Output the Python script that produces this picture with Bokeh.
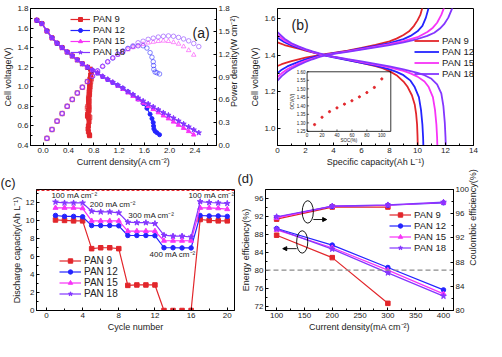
import math
from bokeh.plotting import figure
from bokeh.models import (Range1d, LinearAxis, FixedTicker, PrintfTickFormatter, Title,
                          Legend, LegendItem, Label, Span, Arrow, NormalHead)
from bokeh.layouts import row, column
from bokeh.embed import file_html
from bokeh.resources import INLINE
from bokeh.core.properties import value

FONT = "Liberation Sans"
RED, BLUE, MAG, PUR = "#e2262b", "#2424ff", "#f733f7", "#8436ff"
NAMES = ["PAN 9", "PAN 12", "PAN 15", "PAN 18"]

CURRENT = [-0.10, -0.02, 0.06, 0.14, 0.22, 0.30, 0.38, 0.46, 0.54, 0.62, 0.70, 0.78,
           0.86, 0.94, 1.02, 1.10, 1.18, 1.26, 1.34, 1.42, 1.50, 1.58, 1.66, 1.74,
           1.82, 1.90, 1.98, 2.06, 2.14, 2.22, 2.30, 2.38, 2.46]
cur9 = CURRENT[:11] + [0.75, 0.76, 0.75, 0.74, 0.74, 0.735, 0.73, 0.73, 0.72, 0.72, 0.725,
                       0.72, 0.705, 0.70, 0.72, 0.725, 0.715, 0.71, 0.715, 0.73, 0.735]
volt9 = [1.68, 1.645, 1.57, 1.50, 1.445, 1.40, 1.355, 1.315, 1.275, 1.235, 1.20,
         1.18, 1.15, 1.12, 1.08, 1.04, 1.00, 0.96, 0.92, 0.88, 0.84, 0.80, 0.76, 0.72,
         0.70, 0.68, 0.64, 0.60, 0.57, 0.54, 0.51, 0.50]
pow9 = [-0.17, -0.03, 0.094, 0.21, 0.32, 0.42, 0.515, 0.605, 0.69, 0.765, 0.84,
        0.885, 0.875, 0.84, 0.80, 0.77, 0.735, 0.70, 0.67, 0.635, 0.605, 0.58, 0.545,
        0.51, 0.49, 0.49, 0.465, 0.43, 0.405, 0.385, 0.37, 0.37]
cur12 = CURRENT[:22] + [1.64, 1.69, 1.72, 1.74, 1.745, 1.75, 1.77, 1.80, 1.84]
volt12 = [1.68, 1.645, 1.57, 1.50, 1.445, 1.40, 1.355, 1.315, 1.275, 1.235, 1.20, 1.17,
          1.14, 1.105, 1.075, 1.045, 1.015, 0.985, 0.95, 0.915, 0.875, 0.83, 0.78, 0.72,
          0.675, 0.635, 0.60, 0.57, 0.545, 0.53, 0.51]
pow12 = [-0.17, -0.03, 0.094, 0.21, 0.32, 0.42, 0.515, 0.605, 0.69, 0.765, 0.84, 0.91,
         0.98, 1.04, 1.10, 1.15, 1.20, 1.24, 1.275, 1.30, 1.31, 1.31, 1.28, 1.22, 1.16,
         1.10, 1.05, 1.00, 0.965, 0.955, 0.94]
cur15 = CURRENT[:32]
volt15 = [1.68, 1.645, 1.57, 1.50, 1.445, 1.40, 1.355, 1.315, 1.275, 1.235, 1.20, 1.17,
          1.14, 1.105, 1.075, 1.045, 1.01, 0.976, 0.94, 0.905, 0.869, 0.836, 0.802, 0.77,
          0.737, 0.705, 0.675, 0.642, 0.61, 0.578, 0.545, 0.51]
pow15 = [-0.17, -0.03, 0.094, 0.21, 0.32, 0.42, 0.515, 0.605, 0.69, 0.765, 0.84, 0.91,
         0.98, 1.04, 1.10, 1.15, 1.19, 1.23, 1.26, 1.29, 1.31, 1.33, 1.35, 1.36, 1.37,
         1.375, 1.37, 1.355, 1.335, 1.30, 1.25, 1.19]
cur18 = CURRENT
volt18 = [1.68, 1.645, 1.57, 1.50, 1.445, 1.40, 1.355, 1.315, 1.275, 1.235, 1.20, 1.17,
          1.14, 1.105, 1.075, 1.045, 1.015, 0.985, 0.95, 0.92, 0.885, 0.855, 0.825, 0.795,
          0.765, 0.735, 0.71, 0.68, 0.65, 0.62, 0.59, 0.56, 0.53]
pow18 = [-0.17, -0.03, 0.094, 0.21, 0.32, 0.42, 0.515, 0.605, 0.69, 0.765, 0.84, 0.91,
         0.98, 1.04, 1.10, 1.15, 1.20, 1.24, 1.275, 1.31, 1.35, 1.37, 1.395, 1.41, 1.425,
         1.435, 1.44, 1.435, 1.42, 1.40, 1.375, 1.34, 1.30]

dis9_x = [0, 0.5, 1, 1.5, 2, 2.5, 3, 3.5, 4, 5, 6, 7, 7.5, 8, 8.5, 9, 9.3, 9.6, 9.8, 9.9, 9.97, 10.0, 10.02]
dis9_v = [1.47, 1.455, 1.445, 1.435, 1.425, 1.415, 1.405, 1.397, 1.39, 1.374, 1.358, 1.34, 1.328,
          1.312, 1.29, 1.255, 1.225, 1.18, 1.13, 1.08, 1.02, 0.96, 0.90]
dis12_x = [0, 0.5, 1, 1.5, 2, 2.5, 3, 3.5, 4, 5, 6, 7, 8, 8.5, 9, 9.5, 9.8, 10.1, 10.25, 10.35, 10.4, 10.42]
dis12_v = [1.495, 1.47, 1.453, 1.44, 1.428, 1.416, 1.405, 1.396, 1.388, 1.372, 1.357, 1.342, 1.322,
           1.308, 1.29, 1.26, 1.225, 1.17, 1.10, 1.02, 0.95, 0.90]
dis15_x = [0, 0.5, 1, 1.5, 2, 2.5, 3, 3.5, 4, 5, 6, 7, 8, 9, 9.5, 10, 10.5, 10.8, 11.1, 11.25, 11.35, 11.4, 11.42]
dis15_v = [1.51, 1.48, 1.46, 1.445, 1.43, 1.418, 1.407, 1.398, 1.39, 1.376, 1.362, 1.348, 1.333,
           1.313, 1.30, 1.282, 1.255, 1.225, 1.17, 1.10, 1.02, 0.95, 0.90]
dis18_x = [0, 0.5, 1, 1.5, 2, 2.5, 3, 3.5, 4, 5, 6, 7, 8, 9, 10, 10.5, 11, 11.4, 11.7, 11.85, 11.95, 12.0, 12.02]
dis18_v = [1.525, 1.49, 1.465, 1.448, 1.433, 1.42, 1.409, 1.40, 1.392, 1.378, 1.365, 1.352, 1.338,
           1.322, 1.302, 1.29, 1.27, 1.24, 1.19, 1.12, 1.03, 0.95, 0.90]
chg9_x = [0, 0.3, 0.7, 1, 1.5, 2, 2.5, 3, 3.5, 4, 5, 6, 7, 8, 8.5, 9, 9.4, 9.75, 10.0, 10.2, 10.35]
chg9_v = [1.34, 1.35, 1.36, 1.367, 1.377, 1.386, 1.393, 1.40, 1.406, 1.412, 1.425, 1.44, 1.456,
          1.475, 1.49, 1.51, 1.53, 1.56, 1.59, 1.62, 1.66]
chg12_x = [0, 0.3, 0.7, 1, 1.5, 2, 2.5, 3, 3.5, 4, 5, 6, 7, 8, 9, 9.5, 10, 10.35, 10.6, 10.8]
chg12_v = [1.30, 1.32, 1.338, 1.348, 1.363, 1.376, 1.387, 1.397, 1.404, 1.41, 1.422, 1.436, 1.45,
           1.466, 1.487, 1.505, 1.53, 1.56, 1.605, 1.66]
chg15_x = [0, 0.3, 0.7, 1, 1.5, 2, 2.5, 3, 3.5, 4, 5, 6, 7, 8, 9, 10, 10.7, 11.1, 11.4, 11.7, 11.9]
chg15_v = [1.28, 1.30, 1.322, 1.335, 1.353, 1.368, 1.381, 1.393, 1.402, 1.408, 1.42, 1.433, 1.446,
           1.46, 1.476, 1.498, 1.526, 1.55, 1.577, 1.62, 1.66]
chg18_x = [0, 0.3, 0.7, 1, 1.5, 2, 2.5, 3, 3.5, 4, 5, 6, 7, 8, 9, 10, 10.7, 11.2, 11.6, 11.9, 12.2, 12.5]
chg18_v = [1.26, 1.285, 1.31, 1.325, 1.345, 1.362, 1.377, 1.39, 1.40, 1.407, 1.418, 1.43, 1.442,
           1.455, 1.47, 1.488, 1.505, 1.522, 1.545, 1.569, 1.605, 1.66]
soc = [10, 20, 30, 40, 50, 60, 70, 80, 90, 100]
ocv = [1.29, 1.333, 1.366, 1.388, 1.41, 1.43, 1.453, 1.478, 1.508, 1.558]
inset_x_ticks = [0, 20, 40, 60, 80, 100]
inset_y_ticks = [1.25, 1.30, 1.35, 1.40, 1.45, 1.50, 1.55, 1.60]

cycles = [1, 2, 3, 4, 5, 6, 7, 8, 9, 10, 11, 12, 13, 14, 15, 16, 17, 18, 19, 20]
cap9 = [10.1, 10.05, 10.0, 10.0, 6.9, 7.0, 7.0, 6.9, 2.8, 2.85, 2.85, 2.85, 0, 0, 0, 0, 10.15, 10.05, 10.0, 10.0]
cap12 = [10.6, 10.5, 10.5, 10.45, 9.48, 9.48, 9.48, 9.45, 8.37, 8.37, 8.37, 8.35, 7.0, 7.0, 6.98, 6.98, 10.6, 10.55, 10.55, 10.5]
cap15 = [11.45, 11.45, 11.45, 11.4, 10.0, 10.0, 10.0, 10.0, 8.86, 8.86, 8.86, 8.86, 7.78, 7.78, 7.78, 7.78, 11.45, 11.45, 11.4, 11.3]
cap18 = [12.1, 12.0, 12.0, 12.0, 11.08, 11.0, 11.0, 10.9, 9.85, 9.8, 9.8, 9.7, 8.4, 8.3, 8.3, 8.2, 12.15, 12.05, 12.0, 11.95]
cap_top_line = 13.4
rate_labels = ["100 mA cm\u207b\u00b2", "200 mA cm\u207b\u00b2", "300 mA cm\u207b\u00b2",
               "400 mA cm\u207b\u00b2", "100 mA cm\u207b\u00b2"]

cd = [100, 200, 300, 400]
ee9, ce9 = [87.8, 82.8, 72.6], [95.1, 97.1, 97.1]
ee12, ce12 = [89.3, 85.6, 80.6, 75.6], [95.4, 97.2, 97.4, 97.8]
ee15, ce15 = [89.0, 85.0, 80.0, 74.7], [95.3, 97.25, 97.4, 97.85]
ee18, ce18 = [89.2, 84.7, 79.4, 74.2], [95.5, 97.25, 97.45, 97.9]
ee_ref_line = 80

COLORS = [RED, BLUE, MAG, PUR]
MARKERS = ["square", "circle", "triangle", "star"]
MSIZE = [4.5, 4.5, 5, 6]


def style_axis(ax, ticks, minor, fmt):
    ax.ticker = FixedTicker(ticks=ticks, minor_ticks=minor)
    ax.formatter = PrintfTickFormatter(format=fmt)
    ax.major_label_text_font = FONT
    ax.major_label_text_font_size = "8px"
    ax.major_label_text_color = "#222222"
    ax.axis_label_text_font = FONT
    ax.axis_label_text_font_size = "9px"
    ax.axis_label_text_font_style = "normal"
    ax.axis_label_text_color = "#222222"
    ax.major_tick_in = 3
    ax.major_tick_out = 0
    ax.minor_tick_in = 2
    ax.minor_tick_out = 0
    ax.major_label_standoff = 2
    ax.axis_label_standoff = 1
    ax.axis_line_width = 1


def text_axis(p, range_name, side, ticks, labels, size, orient, standoff):
    """An axis that carries only text (a rotated right-hand title)."""
    ax = LinearAxis(y_range_name=range_name)
    ax.ticker = FixedTicker(ticks=ticks, minor_ticks=[])
    ax.major_label_overrides = dict(zip(ticks, labels))
    ax.major_label_orientation = orient
    ax.major_label_text_font = FONT
    ax.major_label_text_font_size = size
    ax.major_label_text_color = "#222222"
    ax.major_label_standoff = standoff
    ax.axis_line_color = None
    ax.major_tick_line_color = None
    ax.minor_tick_line_color = None
    ax.major_tick_in = 0
    ax.major_tick_out = 0
    ax.minor_tick_in = 0
    ax.minor_tick_out = 0
    p.add_layout(ax, side)
    return ax


def make_fig(w, h, bl, br, bt, bb, xr, yr):
    p = figure(width=w, height=h, x_range=Range1d(*xr), y_range=Range1d(*yr),
               output_backend="svg", toolbar_location=None,
               min_border_left=bl, min_border_right=br, min_border_top=bt, min_border_bottom=bb)
    p.grid.visible = False
    p.outline_line_color = "black"
    p.outline_line_width = 1
    p.background_fill_color = "white"
    p.border_fill_alpha = 0
    return p


def make_legend(p, items, loc, size, gw, lh):
    leg = Legend(items=items, location=loc, label_text_font=FONT, label_text_font_size=size,
                 glyph_width=gw, glyph_height=lh, label_height=lh, spacing=0, padding=0,
                 margin=0, border_line_alpha=0, background_fill_alpha=0, label_standoff=3,
                 label_text_color="#222222")
    p.add_layout(leg)


def panel_label(p, text, x, y, size="14px"):
    p.add_layout(Label(x=x, y=y, x_units="screen", y_units="screen", text=text,
                       text_font=FONT, text_font_size=size, text_baseline="bottom",
                       text_color="#222222"))


def panel_title(p, text, offset, standoff):
    p.add_layout(Title(text=text, align="left", offset=offset, standoff=standoff,
                       text_font=FONT, text_font_size="13px", text_font_style="normal",
                       text_color="#222222"), "above")


# ---------------- panel (a) ----------------
pa = make_fig(247, 180, 29, 27, 8, 35, (-0.2, 2.74), (0.4, 1.8))
pa.extra_y_ranges = {"pow": Range1d(0, 1.8)}
pa_right = LinearAxis(y_range_name="pow")
pa.add_layout(pa_right, "right")
pa.xaxis.axis_label = "Current density(A cm\u207b\u00b2)"
pa.yaxis[0].axis_label = "Cell voltage(V)"
style_axis(pa.xaxis[0], [0, 0.4, 0.8, 1.2, 1.6, 2.0, 2.4], [-0.2, 0.2, 0.6, 1.0, 1.4, 1.8, 2.2, 2.6], "%.1f")
style_axis(pa.yaxis[0], [0.4, 0.6, 0.8, 1.0, 1.2, 1.4, 1.6, 1.8], [0.5, 0.7, 0.9, 1.1, 1.3, 1.5, 1.7], "%.1f")
style_axis(pa_right, [0, 0.3, 0.6, 0.9, 1.2, 1.5, 1.8], [0.15, 0.45, 0.75, 1.05, 1.35, 1.65], "%.1f")
text_axis(pa, "pow", "right", [0.9], ["Power density(W cm\u207b\u00b2)"], "9px", math.pi / 2, 2)

a_items = []
for name, c, m, ms, xs, vs, ps in zip(NAMES, COLORS, MARKERS, MSIZE,
                                      [cur9, cur12, cur15, cur18], [volt9, volt12, volt15, volt18],
                                      [pow9, pow12, pow15, pow18]):
    pm = "circle" if m == "star" else m
    pa.scatter(xs, ps, y_range_name="pow", marker=pm, size=4.5, fill_color=None,
               line_color=c, line_width=0.8, line_alpha=0.7)
    ln = pa.line(xs, vs, line_color=c, line_width=1.2)
    sc = pa.scatter(xs, vs, marker=m, size=ms - 0.5, fill_color=c, line_color=c)
    a_items.append(LegendItem(label=name, renderers=[ln, sc]))
make_legend(pa, a_items, (40, 88), "9.5px", 20, 10)
panel_label(pa, "(a)", 162, 105)

# ---------------- panel (b) ----------------
pb = make_fig(239, 180, 27, 13, 8, 31, (0, 14), (0.905, 1.655))
pb.xaxis.axis_label = "Specific capacity(Ah L\u207b\u00b9)"
pb.yaxis.axis_label = "Cell voltage(V)"
style_axis(pb.xaxis[0], [0, 2, 4, 6, 8, 10, 12, 14], [1, 3, 5, 7, 9, 11, 13], "%d")
style_axis(pb.yaxis[0], [1.0, 1.2, 1.4, 1.6], [1.1, 1.3, 1.5], "%.1f")
b_items = []
for name, c, dx, dv, cx, cv in zip(NAMES, COLORS,
                                   [dis9_x, dis12_x, dis15_x, dis18_x], [dis9_v, dis12_v, dis15_v, dis18_v],
                                   [chg9_x, chg12_x, chg15_x, chg18_x], [chg9_v, chg12_v, chg15_v, chg18_v]):
    l1 = pb.line(dx, dv, line_color=c, line_width=1.8)
    pb.line(cx, cv, line_color=c, line_width=1.8)
    b_items.append(LegendItem(label=name, renderers=[l1]))
make_legend(pb, b_items, (137, 66), "9.5px", 25, 11)
panel_label(pb, "(b)", 14, 113)

IX0, IX1, IY0, IY1 = 0, 112, 1.25, 1.60
FX0, FX1, FY0, FY1 = 0.151, 0.578, 0.103, 0.538
sx = (IX1 - IX0) / (FX1 - FX0)
sy = (IY1 - IY0) / (FY1 - FY0)
pb.extra_x_ranges = {"ix": Range1d(IX0 - FX0 * sx, IX0 - FX0 * sx + sx)}
pb.extra_y_ranges = {"iy": Range1d(IY0 - FY0 * sy, IY0 - FY0 * sy + sy)}
pb.quad(left=[IX0], right=[IX1], bottom=[IY0], top=[IY1], x_range_name="ix", y_range_name="iy",
        fill_color="white", fill_alpha=0.0, line_color="black", line_width=0.8)
pb.ray(x=[IX0] * len(inset_y_ticks), y=inset_y_ticks, length=2, length_units="screen", angle=0,
       x_range_name="ix", y_range_name="iy", line_color="black", line_width=0.6)
pb.ray(x=inset_x_ticks, y=[IY0] * len(inset_x_ticks), length=2, length_units="screen", angle=math.pi / 2,
       x_range_name="ix", y_range_name="iy", line_color="black", line_width=0.6)
pb.text(x=[IX0] * len(inset_y_ticks), y=inset_y_ticks, text=["%.2f" % v for v in inset_y_ticks],
        x_range_name="ix", y_range_name="iy", text_font=value(FONT), text_font_size="4.5px",
        text_align="right", text_baseline="middle", x_offset=-1.5, text_color="#222222")
pb.text(x=inset_x_ticks, y=[IY0] * len(inset_x_ticks), text=["%d" % v for v in inset_x_ticks],
        x_range_name="ix", y_range_name="iy", text_font=value(FONT), text_font_size="4.5px",
        text_align="center", text_baseline="top", y_offset=1.5, text_color="#222222")
pb.text(x=[IX0], y=[(IY0 + IY1) / 2], text=["OCV(V)"], angle=math.pi / 2,
        x_range_name="ix", y_range_name="iy", text_font=value(FONT), text_font_size="4.5px",
        text_align="center", text_baseline="bottom", x_offset=-12, text_color="#222222")
pb.text(x=[(IX0 + IX1) / 2], y=[IY0], text=["SOC(%)"],
        x_range_name="ix", y_range_name="iy", text_font=value(FONT), text_font_size="4.5px",
        text_align="center", text_baseline="top", y_offset=7, text_color="#222222")
pb.scatter(soc, ocv, x_range_name="ix", y_range_name="iy", marker="circle", size=2.2,
           fill_color=RED, line_color=RED)

# ---------------- panel (c) ----------------
pc = make_fig(237, 180, 36, 3, 14, 31, (-1.1, 20.8), (0, 13.5))
pc.xaxis.axis_label = "Cycle number"
pc.yaxis.axis_label = "Discharge capacity(Ah L\u207b\u00b9)"
style_axis(pc.xaxis[0], [0, 4, 8, 12, 16, 20], [2, 6, 10, 14, 18], "%d")
style_axis(pc.yaxis[0], [0, 2, 4, 6, 8, 10, 12], [1, 3, 5, 7, 9, 11, 13], "%d")
panel_title(pc, "(c)", -36, 0)
pc.add_layout(Span(location=cap_top_line, dimension="width", line_color=RED, line_width=1.2,
                   line_dash="3 2"))
c_items = []
for name, c, m, ms, ys in zip(NAMES, COLORS, MARKERS, MSIZE, [cap9, cap12, cap15, cap18]):
    ln = pc.line(cycles, ys, line_color=c, line_width=1.2)
    sc = pc.scatter(cycles, ys, marker=m, size=ms, fill_color=c, line_color=c)
    c_items.append(LegendItem(label=name, renderers=[ln, sc]))
make_legend(pc, c_items, (23, 11), "10px", 22, 11)
pc.text(x=[0.55, 4.8, 9.05, 11.4, 15.7], y=[12.8, 11.85, 10.6, 6.2, 12.8], text=rate_labels,
        text_font=value(FONT), text_font_size="8px", text_baseline="middle", text_color="#222222")

# ---------------- panel (d) ----------------
pd_ = make_fig(249, 180, 28, 31, 28, 31, (80, 418), (71, 98))
pd_.extra_y_ranges = {"ce": Range1d(80, 100)}
pd_right = LinearAxis(y_range_name="ce")
pd_.add_layout(pd_right, "right")
pd_.xaxis.axis_label = "Current density(mA cm\u207b\u00b2)"
pd_.yaxis[0].axis_label = "Energy efficiency(%)"
style_axis(pd_.xaxis[0], [100, 150, 200, 250, 300, 350, 400], [125, 175, 225, 275, 325, 375], "%d")
style_axis(pd_.yaxis[0], [72, 76, 80, 84, 88, 92, 96], [74, 78, 82, 86, 90, 94], "%d")
style_axis(pd_right, [80, 84, 88, 92, 96, 100], [82, 86, 90, 94, 98], "%d")
text_axis(pd_, "ce", "right", [90], ["Coulombic efficiency(%)"], "9px", math.pi / 2, 2)
panel_title(pd_, "(d)", -28, 8)
pd_.add_layout(Span(location=ee_ref_line, dimension="width", line_color="#8c8c8c",
                    line_width=1.2, line_dash="5 3"))
d_items = []
for name, c, m, ms, ee, ce in zip(NAMES, COLORS, MARKERS, MSIZE,
                                  [ee9, ee12, ee15, ee18], [ce9, ce12, ce15, ce18]):
    xs = cd[:len(ee)]
    ln = pd_.line(xs, ee, line_color=c, line_width=1.2)
    sc = pd_.scatter(xs, ee, marker=m, size=ms, fill_color=c, line_color=c)
    pd_.line(xs, ce, y_range_name="ce", line_color=c, line_width=1.2)
    pd_.scatter(xs, ce, y_range_name="ce", marker=m, size=ms, fill_color=c, line_color=c)
    d_items.append(LegendItem(label=name, renderers=[ln, sc]))
make_legend(pd_, d_items, (124, 57), "9.5px", 22, 11)
pd_.ellipse(x=[156, 146], y=[93.0, 86.3], width=20, height=5.0, fill_alpha=0,
            line_color="black", line_width=0.9)
pd_.add_layout(Arrow(end=NormalHead(size=4, fill_color="black", line_color="black"),
                     x_start=166, y_start=91.3, x_end=190, y_end=91.3,
                     line_color="black", line_width=0.9))
pd_.add_layout(Arrow(end=NormalHead(size=4, fill_color="black", line_color="black"),
                     x_start=136, y_start=84.8, x_end=111, y_end=84.8,
                     line_color="black", line_width=0.9))

top_row = row(pa, pb)
bottom_row = row(pc, pd_, margin=(-19, 0, 0, 0))
layout = column(top_row, bottom_row)
open("out.html", "w").write(file_html(layout, INLINE))
